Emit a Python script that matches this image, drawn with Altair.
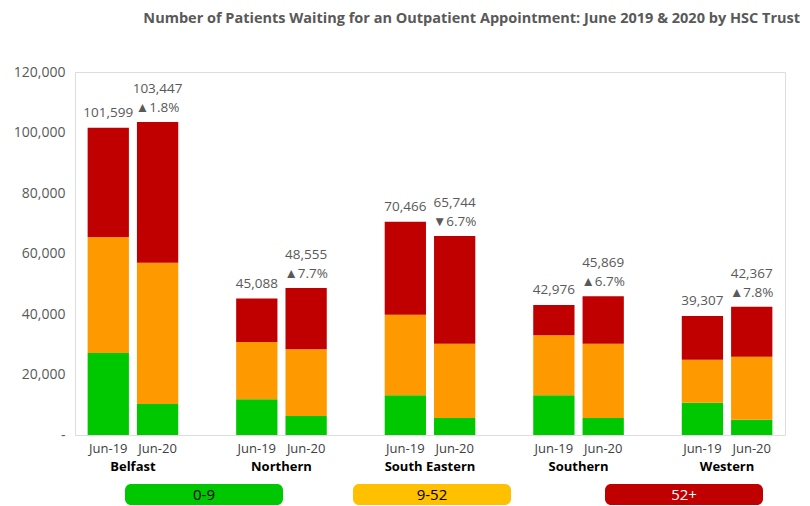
import altair as alt
import pandas as pd

trusts = ["Belfast", "Northern", "South Eastern", "Southern", "Western"]
periods = ["Jun-19", "Jun-20"]
bands = ["0-9", "9-52", "52+"]
bar_colors = ["#00C800", "#FF9900", "#C00000"]
legend_colors = ["#00C800", "#FFC000", "#C00000"]
legend_text_colors = ["#000000", "#000000", "#FFFFFF"]

# per trust: [Jun-19, Jun-20]
weeks_0_9 = {
    "Belfast": [27100, 10250],
    "Northern": [11800, 6280],
    "South Eastern": [13120, 5620],
    "Southern": [13120, 5620],
    "Western": [10680, 5060],
}
weeks_9_52 = {
    "Belfast": [38350, 46710],
    "Northern": [18940, 22050],
    "South Eastern": [26650, 24560],
    "Southern": [19840, 24560],
    "Western": [14220, 20830],
}
weeks_52_plus = {
    "Belfast": [36149, 46487],
    "Northern": [14348, 20225],
    "South Eastern": [30696, 35564],
    "Southern": [10016, 15689],
    "Western": [14407, 16477],
}
totals = {
    "Belfast": [101599, 103447],
    "Northern": [45088, 48555],
    "South Eastern": [70466, 65744],
    "Southern": [42976, 45869],
    "Western": [39307, 42367],
}

rows = []
for t in trusts:
    for i, p in enumerate(periods):
        for k, (b, src) in enumerate(zip(bands, [weeks_0_9, weeks_9_52, weeks_52_plus])):
            rows.append({"trust": t, "period": p, "band": b, "order": k, "value": src[t][i]})
df = pd.DataFrame(rows)

trows = []
for t in trusts:
    a, b = totals[t]
    chg = (b - a) / a * 100
    arrow = "\u25B2" if chg >= 0 else "\u25BC"
    trows.append({"trust": t, "period": "Jun-19", "total": a, "label": f"{a:,}", "change": ""})
    trows.append({"trust": t, "period": "Jun-20", "total": b, "label": f"{b:,}",
                  "change": f"{arrow}{abs(chg):.1f}%"})
dt = pd.DataFrame(trows)

W, H = 710, 363
FONT = "Open Sans"

xenc = alt.X("trust:N", sort=trusts,
             scale=alt.Scale(paddingInner=0.39, paddingOuter=0.085),
             axis=alt.Axis(title=None, domain=False, ticks=False, labelAngle=0,
                           labelPadding=25, labelFont=FONT, labelFontSize=13,
                           labelFontWeight="bold", labelColor="#000000"))
xoff = alt.XOffset("period:N", sort=periods,
                   scale=alt.Scale(paddingInner=0.163, paddingOuter=0))

bars = alt.Chart(df).mark_bar().encode(
    x=xenc, xOffset=xoff,
    y=alt.Y("value:Q", stack="zero", scale=alt.Scale(domain=[0, 120000]),
            axis=alt.Axis(title=None, domain=False, ticks=False, grid=False,
                          values=[0, 20000, 40000, 60000, 80000, 100000, 120000],
                          labelExpr="datum.value == 0 ? '-' : format(datum.value, ',')",
                          labelFont=FONT, labelFontSize=14, labelColor="#595959",
                          labelPadding=10)),
    color=alt.Color("band:N", scale=alt.Scale(domain=bands, range=bar_colors), legend=None),
    order=alt.Order("order:Q"),
)

base_t = alt.Chart(dt)
lab19 = base_t.mark_text(
    baseline="bottom", dy=-8, font=FONT, fontSize=13.5, color="#595959",
).encode(x=xenc, xOffset=xoff, y=alt.Y("total:Q"), text="label:N").transform_filter(
    "datum.period == 'Jun-19'")
lab20 = base_t.mark_text(
    baseline="bottom", dy=-26, font=FONT, fontSize=13.5, color="#595959",
).encode(x=xenc, xOffset=xoff, y=alt.Y("total:Q"), text="label:N").transform_filter(
    "datum.period == 'Jun-20'")
chg20 = base_t.mark_text(
    baseline="bottom", dy=-7, font=FONT, fontSize=13.5, color="#595959",
).encode(x=xenc, xOffset=xoff, y=alt.Y("total:Q"), text="change:N").transform_filter(
    "datum.period == 'Jun-20'")

period_labels = base_t.mark_text(
    baseline="middle", font=FONT, fontSize=13, color="#404040",
).encode(x=xenc, xOffset=xoff, y=alt.value(H + 14), text="period:N")

legend_layers = []
legend_x = [(50, 208), (278, 436), (530, 688)]
for lab, col, tcol, (x1, x2) in zip(bands, legend_colors, legend_text_colors, legend_x):
    ld = pd.DataFrame({"label": [lab]})
    legend_layers.append(
        alt.Chart(ld).mark_rect(color=col, cornerRadius=6).encode(
            x=alt.value(x1), x2=alt.value(x2), y=alt.value(H + 49), y2=alt.value(H + 70))
    )
    legend_layers.append(
        alt.Chart(ld).mark_text(color=tcol, font=FONT, fontSize=15, baseline="middle").encode(
            x=alt.value((x1 + x2) / 2), y=alt.value(H + 59.5), text="label:N")
    )

chart = alt.layer(bars, lab19, lab20, chg20, period_labels, *legend_layers).properties(
    width=W, height=H,
    padding={"left": 5, "top": 2, "right": 0, "bottom": 0},
    title=alt.Title(
        "Number of Patients Waiting for an Outpatient Appointment: June 2019 & 2020 by HSC Trust",
        anchor="end", font=FONT, fontSize=14.5, fontWeight="bold", color="#595959",
        offset=39, dx=15),
).configure_view(stroke=None).configure(background="white")

chart.save("out.html", embed_options={"renderer": "svg", "actions": False})
